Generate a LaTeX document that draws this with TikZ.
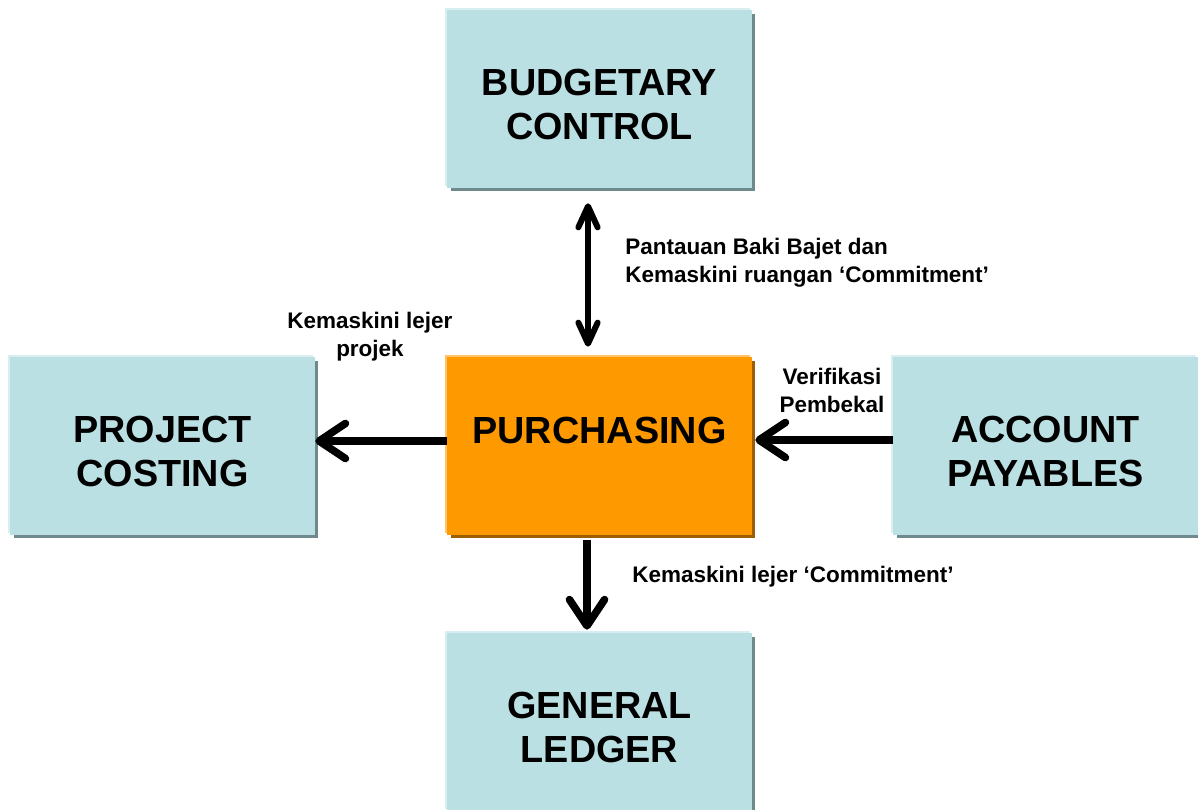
\documentclass[tikz,border=0pt]{standalone}
\usepackage{fontspec}
\setmainfont{Liberation Sans}
\usetikzlibrary{arrows.meta,shadows}

\definecolor{boxblue}{HTML}{BBE0E3}
\definecolor{boxblueedge}{HTML}{D8EEF0}
\definecolor{boxblueshadow}{HTML}{6F8A8C}
\definecolor{boxorange}{HTML}{FF9900}
\definecolor{boxorangeedge}{HTML}{FFC46A}
\definecolor{boxorangeshadow}{HTML}{9C5E00}

\begin{document}
\begin{tikzpicture}[
	x=0.02cm, y=-0.02cm,
	boxbase/.style={ rectangle, minimum width=6.1cm, minimum height=3.56cm, inner sep=0pt, align=center, font=\fontsize{21.5}{25.2}\selectfont\bfseries },
	box/.style={ boxbase, fill=boxblue, text height=1.64cm,
		general shadow={fill=boxblueshadow, shadow xshift=0.07cm, shadow yshift=-0.07cm},
		general shadow={fill=boxblueedge, shadow xshift=-0.04cm, shadow yshift=0.04cm} },
	boxo/.style={ boxbase, fill=boxorange,
		general shadow={fill=boxorangeshadow, shadow xshift=0.07cm, shadow yshift=-0.07cm},
		general shadow={fill=boxorangeedge, shadow xshift=-0.04cm, shadow yshift=0.04cm} },
	note/.style={ inner sep=0pt, align=center, font=\fontsize{12.8}{16}\selectfont\bfseries },
	flow/.style={ line width=4.3pt, -{Straight Barb[length=15pt, width=20pt, line width=4.3pt, round]} },
	flowthin/.style={ line width=3.4pt, {Straight Barb[length=12pt, width=11pt, line width=3.4pt, round]}-{Straight Barb[length=12pt, width=11pt, line width=3.4pt, round]} }
]
\useasboundingbox (0,0) rectangle (1198,810);

\node at (599.5,99) (bc) [box] {BUDGETARY\\CONTROL};
\node at (599.5,446) (pur) [boxo,text depth=0.64cm] {PURCHASING};
\node at (162.5,446) (pc) [box] {PROJECT\\COSTING};
\node at (1045.5,446) (ap) [box] {ACCOUNT\\PAYABLES};
\node at (599.5,722) (gl) [box] {GENERAL\\LEDGER};

\draw[flowthin, shorten <=0.3cm, shorten >=0.2cm] ([xshift=-0.23cm]bc.south) -- ([xshift=-0.23cm]pur.north);
\draw[flow] ([yshift=0.1cm]pur.west) -- ([yshift=0.1cm]pc.east);
\draw[flow, shorten >=0.06cm] ([yshift=0.12cm]ap.west) -- ([yshift=0.12cm]pur.east);
\draw[flow, shorten <=0.1cm, shorten >=0.06cm] ([xshift=-0.25cm]pur.south) -- ([xshift=-0.25cm]gl.north);

\node at (625,283) (n1) [note,anchor=base west,align=left] {Pantauan Baki Bajet dan\\Kemaskini ruangan ‘Commitment’};
\node at (370,357) (n2) [note,anchor=base] {Kemaskini lejer\\projek};
\node at (832,413) (n3) [note,anchor=base] {Verifikasi\\Pembekal};
\node at (632,583) (n4) [note,anchor=base west] {Kemaskini lejer ‘Commitment’};

\end{tikzpicture}
\end{document}
